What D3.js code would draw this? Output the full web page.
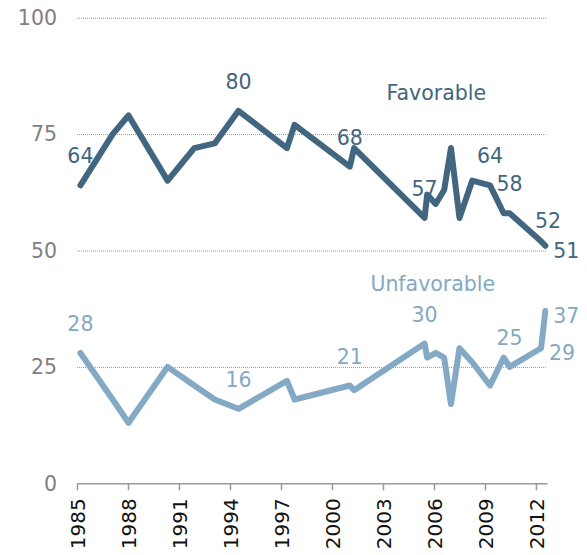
<!DOCTYPE html>
<html>
<head>
<meta charset="utf-8">
<script src="https://cdn.jsdelivr.net/npm/d3@7"></script>
<style>
  body { margin: 0; background: #fff; }
  svg { display: block; font-family: "DejaVu Sans", Verdana, sans-serif; }
</style>
</head>
<body>
<div id="chart"></div>
<script>
// survey dates (decimal years)
const surveyDates = [1985.2, 1987.1, 1988.03, 1990.33, 1991.9, 1993.1, 1994.5, 1997.35, 1997.8,
  2001.05, 2001.3, 2005.45, 2005.6, 2006.1, 2006.6, 2007.0, 2007.5, 2008.25, 2009.3,
  2010.1, 2010.45, 2012.3, 2012.55];
const favorable =   [64, 75, 79, 65, 72, 73, 80, 72, 77, 68, 72, 57, 62, 60, 63, 72, 57, 65, 64, 58, 58, 52, 51];
const unfavorable = [28, 18, 13, 25, 21, 18, 16, 22, 18, 21, 20, 30, 27, 28, 27, 17, 29, 26, 21, 27, 25, 29, 37];

// which points carry a value label, and where it sits
const favLabels = [[0, "above"], [6, "above"], [9, "above"], [11, "above"], [18, "above"], [20, "above"], [21, "aboveRight"], [22, "right"]];
const unfavLabels = [[0, "above"], [6, "above"], [9, "above"], [11, "above"], [20, "above"], [21, "right"], [22, "right"]];

const yTicks = [0, 25, 50, 75, 100];
const xTicks = [1985, 1988, 1991, 1994, 1997, 2000, 2003, 2006, 2009, 2012];

const colorFav = "#42667f";
const colorUnfav = "#84a9c4";

const width = 587, height = 555;

const x = d3.scaleLinear().domain([1985, 2012.65]).range([77, 547]);
const y = d3.scaleLinear().domain([0, 100]).range([483.3, 17.7]);

const svg = d3.select("#chart").append("svg")
    .attr("width", width)
    .attr("height", height);

// dotted gridlines
svg.append("g")
    .selectAll("line")
    .data(yTicks.filter(d => d > 0))
    .join("line")
    .attr("x1", x.range()[0])
    .attr("x2", x.range()[1])
    .attr("y1", d => y(d) + 0.5)
    .attr("y2", d => y(d) + 0.5)
    .attr("stroke", "#999")
    .attr("stroke-width", 1)
    .attr("stroke-dasharray", "1,1");

// y labels
svg.append("g")
    .selectAll("text")
    .data(yTicks)
    .join("text")
    .attr("x", 57)
    .attr("y", d => y(d))
    .attr("dy", "0.36em")
    .attr("text-anchor", "end")
    .attr("fill", "#808080")
    .attr("font-size", 20.5)
    .text(d => d);

// x axis
const xAxis = svg.append("g")
    .attr("transform", `translate(0,${y(0)})`)
    .call(d3.axisBottom(x).tickValues(xTicks).tickFormat(d3.format("d")).tickSize(7).tickSizeOuter(0));
xAxis.select(".domain").attr("stroke", "#999").attr("stroke-width", 1.5);
xAxis.selectAll(".tick line").attr("stroke", "#999").attr("stroke-width", 1.5);
xAxis.selectAll(".tick text")
    .attr("font-family", "DejaVu Sans, Verdana, sans-serif")
    .attr("font-size", 20)
    .attr("fill", "#111")
    .attr("transform", "rotate(-90)")
    .attr("text-anchor", "end")
    .attr("x", -15)
    .attr("y", 0)
    .attr("dy", "0.36em");

const line = d3.line()
    .x(d => x(d[0]))
    .y(d => y(d[1]));

const series = [
  { name: "Favorable", values: favorable, color: colorFav, labels: favLabels, nameAt: [2006.14, 82.3] },
  { name: "Unfavorable", values: unfavorable, color: colorUnfav, labels: unfavLabels, nameAt: [2005.93, 41.2] }
];

const placement = {
  above: { dx: 0, dy: -22, anchor: "middle" },
  aboveRight: { dx: 7, dy: -13, anchor: "middle" },
  right: { dx: 8, dy: 12, anchor: "start" }
};

series.forEach(s => {
  const pts = surveyDates.map((d, i) => [d, s.values[i]]);

  svg.append("path")
      .datum(pts)
      .attr("fill", "none")
      .attr("stroke", s.color)
      .attr("stroke-width", 6)
      .attr("stroke-linejoin", "round")
      .attr("stroke-linecap", "round")
      .attr("d", line);

  svg.append("g")
      .selectAll("text")
      .data(s.labels)
      .join("text")
      .attr("x", ([i, p]) => x(surveyDates[i]) + placement[p].dx)
      .attr("y", ([i, p]) => y(s.values[i]) + placement[p].dy)
      .attr("text-anchor", ([, p]) => placement[p].anchor)
      .attr("fill", s.color)
      .attr("font-size", 20.5)
      .text(([i]) => s.values[i]);

  svg.append("text")
      .attr("x", x(s.nameAt[0]))
      .attr("y", y(s.nameAt[1]))
      .attr("text-anchor", "middle")
      .attr("fill", s.color)
      .attr("font-size", 20.5)
      .text(s.name);
});
</script>
</body>
</html>
